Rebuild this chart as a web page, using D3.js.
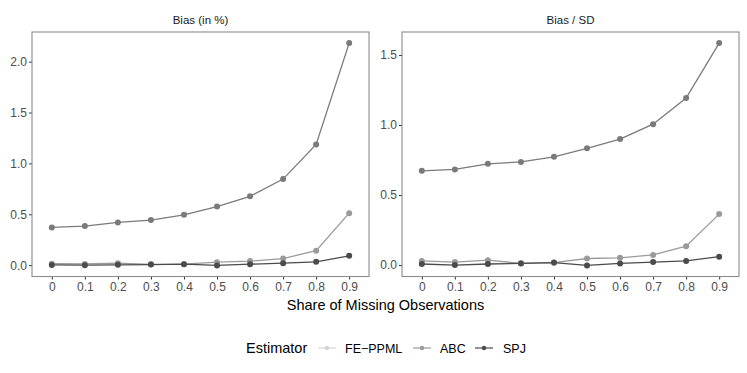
<!DOCTYPE html>
<html lang="en">
<head>
	<meta charset="utf-8">
	<title>Bias by share of missing observations</title>
	<script src="https://d3js.org/d3.v7.min.js"></script>
	<style>
		body { margin: 0; background: #fff; }
		text { font-family: "Liberation Sans", Arial, sans-serif; }
	</style>
</head>
<body>
<script>
	// categories on the x axis
	var shares = ["0", "0.1", "0.2", "0.3", "0.4", "0.5", "0.6", "0.7", "0.8", "0.9"];
	var estimators = ["FE\u2212PPML", "ABC", "SPJ"];

	// left panel: bias in %
	var biasPctFE  = [0.371, 0.384, 0.420, 0.443, 0.495, 0.576, 0.677, 0.846, 1.187, 2.182];
	var biasPctABC = [0.015, 0.012, 0.020, 0.008, 0.010, 0.030, 0.040, 0.065, 0.143, 0.511];
	var biasPctSPJ = [0.003, 0.000, 0.004, 0.006, 0.010, -0.002, 0.010, 0.020, 0.033, 0.092];

	// right panel: bias / sd
	var biasSdFE  = [0.673, 0.683, 0.723, 0.737, 0.773, 0.834, 0.900, 1.006, 1.193, 1.585];
	var biasSdABC = [0.030, 0.022, 0.035, 0.013, 0.017, 0.047, 0.052, 0.073, 0.135, 0.364];
	var biasSdSPJ = [0.008, 0.000, 0.008, 0.012, 0.018, -0.002, 0.012, 0.022, 0.030, 0.060];

	var leftTicks = [0, 0.5, 1.0, 1.5, 2.0];
	var rightTicks = [0, 0.5, 1.0, 1.5];

	var lineColors = ["#7a7a7a", "#9a9a9a", "#4b4b4b"];
	var keyColors = ["#d4d4d4", "#9a9a9a", "#4b4b4b"];

	var w = 747, h = 373;
	var svg = d3.select("body").append("svg")
		.attr("width", w)
		.attr("height", h);

	var panels = [
		{ title: "Bias (in %)", series: [biasPctFE, biasPctABC, biasPctSPJ], ticks: leftTicks, x0: 32, x1: 369 },
		{ title: "Bias / SD", series: [biasSdFE, biasSdABC, biasSdSPJ], ticks: rightTicks, x0: 402, x1: 739 }
	];
	var panelTop = 32, panelBottom = 276.5;

	panels.forEach(function(p) {
		var all = [].concat(p.series[0], p.series[1], p.series[2]);
		var lo = d3.min(all), hi = d3.max(all), pad = (hi - lo) * 0.05;

		var x = d3.scalePoint().domain(shares).range([p.x0, p.x1]).padding(0.6);
		var y = d3.scaleLinear().domain([lo - pad, hi + pad]).range([panelBottom, panelTop]);

		var g = svg.append("g");

		// strip title
		g.append("text")
			.attr("x", (p.x0 + p.x1) / 2)
			.attr("y", 24)
			.attr("text-anchor", "middle")
			.attr("font-size", 11.5)
			.attr("fill", "#1a1a1a")
			.text(p.title);

		// axes
		var yAxis = g.append("g")
			.attr("transform", "translate(" + p.x0 + ",0)")
			.call(d3.axisLeft(y).tickValues(p.ticks).tickSize(3).tickPadding(2)
				.tickFormat(d3.format(".1f")));
		var xAxis = g.append("g")
			.attr("transform", "translate(0," + panelBottom + ")")
			.call(d3.axisBottom(x).tickSize(3).tickPadding(3));
		[yAxis, xAxis].forEach(function(a) {
			a.select(".domain").remove();
			a.selectAll(".tick line").attr("stroke", "#333").attr("stroke-width", 1);
			a.selectAll(".tick text").attr("fill", "#4d4d4d").attr("font-size", 12)
				.attr("font-family", "'Liberation Sans', Arial, sans-serif");
		});

		// panel border
		g.append("rect")
			.attr("x", p.x0)
			.attr("y", panelTop)
			.attr("width", p.x1 - p.x0)
			.attr("height", panelBottom - panelTop)
			.attr("fill", "none")
			.attr("stroke", "#8c8c8c")
			.attr("stroke-width", 1.1);

		var line = d3.line()
			.x(function(d, i) { return x(shares[i]); })
			.y(function(d) { return y(d); });

		p.series.forEach(function(vals, k) {
			g.append("path")
				.datum(vals)
				.attr("d", line)
				.attr("fill", "none")
				.attr("stroke", lineColors[k])
				.attr("stroke-width", 1.3);
		});
		p.series.forEach(function(vals, k) {
			g.selectAll(null)
				.data(vals)
				.enter()
				.append("circle")
				.attr("cx", function(d, i) { return x(shares[i]); })
				.attr("cy", function(d) { return y(d); })
				.attr("r", 3)
				.attr("fill", lineColors[k]);
		});
	});

	// x axis title
	svg.append("text")
		.attr("x", 385.5)
		.attr("y", 310)
		.attr("text-anchor", "middle")
		.attr("font-size", 14.5)
		.attr("fill", "#000")
		.text("Share of Missing Observations");

	// legend
	var legend = svg.append("g");
	legend.append("text")
		.attr("x", 246)
		.attr("y", 353)
		.attr("font-size", 14.5)
		.attr("fill", "#000")
		.text("Estimator");

	var keyX = [318, 413, 475];
	var keyText = [345, 440, 503];
	estimators.forEach(function(name, k) {
		legend.append("line")
			.attr("x1", keyX[k]).attr("x2", keyX[k] + 18)
			.attr("y1", 348).attr("y2", 348)
			.attr("stroke", keyColors[k])
			.attr("stroke-width", 1.2);
		legend.append("circle")
			.attr("cx", keyX[k] + 9).attr("cy", 348).attr("r", 2.2)
			.attr("fill", keyColors[k]);
		legend.append("text")
			.attr("x", keyText[k])
			.attr("y", 352.5)
			.attr("font-size", 12.5)
			.attr("fill", "#000")
			.text(name);
	});
</script>
</body>
</html>
